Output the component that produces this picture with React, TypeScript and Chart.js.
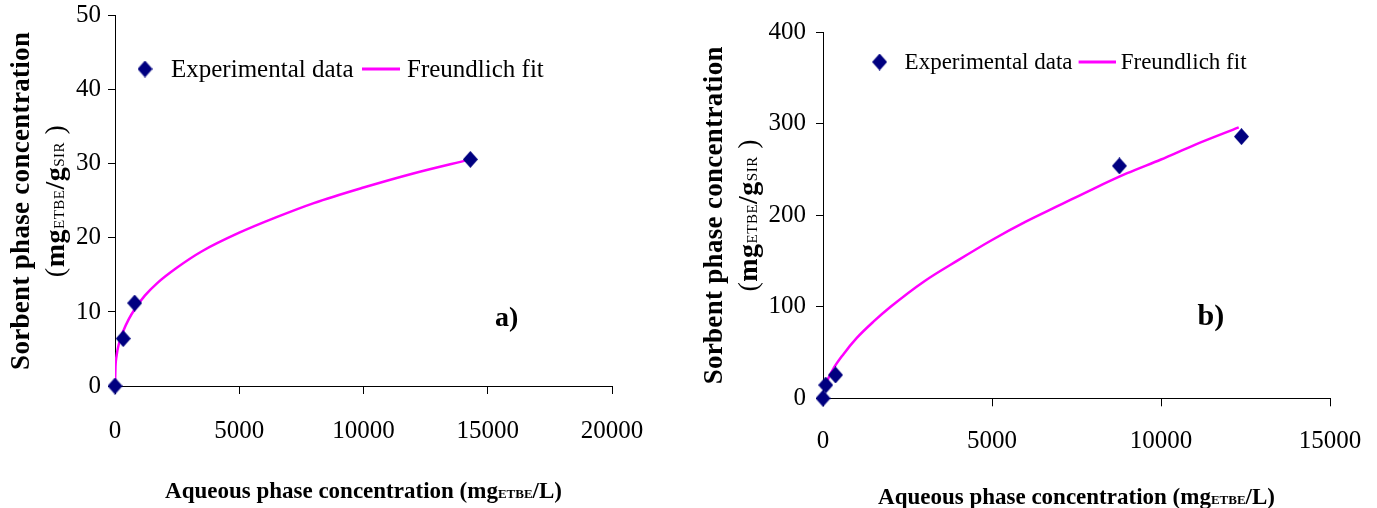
import { useEffect, useRef } from "react";
import { Chart, registerables } from "chart.js";

Chart.register(...registerables);

// ---------------- data ----------------
// Panel a)
const expA_x = [0, 330, 790, 14300];
const expA_y = [0, 6.4, 11.2, 30.6];
const fitA_x = [0, 20, 60, 150, 330, 550, 800, 1200, 1700, 2500, 3500, 5000, 6500, 8000, 10000, 12000, 14300];
const fitA_y = [0, 2.6, 4.0, 5.6, 7.4, 9.0, 10.4, 12.2, 13.9, 16.0, 18.2, 20.7, 22.8, 24.7, 26.8, 28.7, 30.6];
const xTicksA = [0, 5000, 10000, 15000, 20000];
const yTicksA = [0, 10, 20, 30, 40, 50];

// Panel b)
const expB_x = [0, 80, 370, 8770, 12380];
const expB_y = [0, 14.5, 25.5, 254, 286];
const fitB_x = [50, 100, 300, 600, 1000, 1500, 2000, 3000, 4000, 5000, 6000, 7000, 8000, 9000, 10000, 11000, 12300];
const fitB_y = [11, 17, 32, 48, 66, 84, 100, 128, 151, 173, 193, 211, 229, 246, 261, 277, 296];
const xTicksB = [0, 5000, 10000, 15000];
const yTicksB = [0, 100, 200, 300, 400];

// Text
const legendLabels = ["Experimental data", "Freundlich fit"];
const panelTags = ["a)", "b)"];
const xTitleMain = "Aqueous phase concentration (mg";
const xTitleSub = "ETBE";
const xTitleTail = "/L)";
const yTitleMain = "Sorbent phase concentration";
const yTitle2 = ["(", "mg", "ETBE", "/g", "SIR", " )"];

// ---------------- styling ----------------
const SERIF = '"Liberation Serif", "Times New Roman", serif';
const FIT_COLOR = "#FF00FF";
const POINT_COLOR = "#000080";

type Seg = { t: string; f: string; dy?: number };

function richWidth(ctx: CanvasRenderingContext2D, segs: Seg[]) {
  let w = 0;
  for (const s of segs) {
    ctx.font = s.f;
    w += ctx.measureText(s.t).width;
  }
  return w;
}

function drawRich(ctx: CanvasRenderingContext2D, segs: Seg[], x: number, y: number) {
  let cx = x;
  for (const s of segs) {
    ctx.font = s.f;
    ctx.fillText(s.t, cx, y + (s.dy || 0));
    cx += ctx.measureText(s.t).width;
  }
}

function makeDiamond(w: number, h: number) {
  const c = document.createElement("canvas");
  c.width = w;
  c.height = h;
  const g = c.getContext("2d")!;
  g.fillStyle = POINT_COLOR;
  g.beginPath();
  g.moveTo(w / 2, 0);
  g.lineTo(w, h / 2);
  g.lineTo(w / 2, h);
  g.lineTo(0, h / 2);
  g.closePath();
  g.fill();
  return c;
}

const panels = [
  {
    expX: expA_x, expY: expA_y, fitX: fitA_x, fitY: fitA_y,
    xTicks: xTicksA, yTicks: yTicksA, xMax: 20000, yMax: 50,
    padTop: 15.7, padRight: 76, yWidth: 115, xHeight: 122,
    yLabelPad: 7, xLabelPad: 22,
    legY: 69, legDiamondX: 145, legText1X: 171, legLine0: 362, legLine1: 400, legText2X: 407, legFont: 25,
    tag: panelTags[0], tagX: 495, tagY: 326, tagFont: 28,
    xTitleY: 498, yTitleX: 29, yTitle2X: 64,
  },
  {
    expX: expB_x, expY: expB_y, fitX: fitB_x, fitY: fitB_y,
    xTicks: xTicksB, yTicks: yTicksB, xMax: 15000, yMax: 400,
    padTop: 32.3, padRight: 47, yWidth: 135, xHeight: 109.7,
    yLabelPad: 10, xLabelPad: 20,
    legY: 62, legDiamondX: 191.6, legText1X: 216.6, legLine0: 390.6, legLine1: 428, legText2X: 432.7, legFont: 23,
    tag: panelTags[1], tagX: 509.5, tagY: 325, tagFont: 30,
    xTitleY: 504, yTitleX: 34, yTitle2X: 69,
  },
];

function zeroPadding(s: any) {
  s.paddingTop = 0;
  s.paddingBottom = 0;
  s.paddingLeft = 0;
  s.paddingRight = 0;
}

function buildChart(canvas: HTMLCanvasElement, p: any) {
  const diamond = makeDiamond(15, 17);
  const deco = {
    id: "deco",
    afterDraw(chart: any) {
      const ctx: CanvasRenderingContext2D = chart.ctx;
      const ca = chart.chartArea;
      ctx.save();
      ctx.fillStyle = "#000";

      // legend
      ctx.drawImage(diamond, p.legDiamondX - 7.5, p.legY - 8.5);
      ctx.font = `${p.legFont}px ${SERIF}`;
      ctx.textBaseline = "middle";
      ctx.textAlign = "left";
      ctx.fillText(legendLabels[0], p.legText1X, p.legY + 1);
      ctx.strokeStyle = FIT_COLOR;
      ctx.lineWidth = 3;
      ctx.beginPath();
      ctx.moveTo(p.legLine0, p.legY);
      ctx.lineTo(p.legLine1, p.legY);
      ctx.stroke();
      ctx.fillText(legendLabels[1], p.legText2X, p.legY + 1);

      // panel tag
      ctx.textBaseline = "alphabetic";
      ctx.font = `bold ${p.tagFont}px ${SERIF}`;
      ctx.fillText(p.tag, p.tagX, p.tagY);

      // x title
      const xs: Seg[] = [
        { t: xTitleMain, f: `bold 23px ${SERIF}` },
        { t: xTitleSub, f: `bold 13px ${SERIF}` },
        { t: xTitleTail, f: `bold 23px ${SERIF}` },
      ];
      const xw = richWidth(ctx, xs);
      drawRich(ctx, xs, (ca.left + ca.right) / 2 - xw / 2, p.xTitleY);

      // y title
      const cy = (ca.top + ca.bottom) / 2;
      ctx.save();
      ctx.translate(p.yTitleX, cy);
      ctx.rotate(-Math.PI / 2);
      (ctx as any).letterSpacing = "0.3px";
      ctx.font = `bold 27px ${SERIF}`;
      ctx.textAlign = "center";
      ctx.fillText(yTitleMain, 0, 0);
      ctx.restore();

      ctx.save();
      ctx.translate(p.yTitle2X, cy);
      ctx.rotate(-Math.PI / 2);
      ctx.textAlign = "left";
      (ctx as any).letterSpacing = "0.5px";
      const ys: Seg[] = [
        { t: yTitle2[0], f: `28px ${SERIF}` },
        { t: yTitle2[1], f: `bold 28px ${SERIF}` },
        { t: yTitle2[2], f: `15px ${SERIF}` },
        { t: yTitle2[3], f: `bold 28px ${SERIF}` },
        { t: yTitle2[4], f: `15px ${SERIF}` },
        { t: yTitle2[5], f: `28px ${SERIF}` },
      ];
      const yw = richWidth(ctx, ys);
      drawRich(ctx, ys, -yw / 2, 0);
      ctx.restore();

      ctx.restore();
    },
  };

  const expData = p.expX.map((x: number, i: number) => ({ x, y: p.expY[i] }));
  const fitData = p.fitX.map((x: number, i: number) => ({ x, y: p.fitY[i] }));

  return new Chart(canvas, {
    type: "scatter",
    data: {
      datasets: [
        {
          label: legendLabels[0],
          data: expData,
          pointStyle: diamond as any,
          pointRadius: 8,
          backgroundColor: POINT_COLOR,
          borderColor: POINT_COLOR,
          showLine: false,
          clip: false as any,
        },
        {
          label: legendLabels[1],
          data: fitData,
          showLine: true,
          pointRadius: 0,
          borderColor: FIT_COLOR,
          borderWidth: 2.5,
          cubicInterpolationMode: "monotone",
          fill: false,
        } as any,
      ],
    },
    options: {
      responsive: false,
      animation: false,
      devicePixelRatio: 1,
      events: [],
      layout: { autoPadding: false, padding: { left: 0, top: p.padTop, right: p.padRight, bottom: 0 } },
      plugins: { legend: { display: false }, title: { display: false }, tooltip: { enabled: false } },
      scales: {
        x: {
          type: "linear",
          min: 0,
          max: p.xMax,
          afterBuildTicks: (s: any) => {
            s.ticks = p.xTicks.map((v: number) => ({ value: v }));
          },
          afterFit: (s: any) => {
            s.height = p.xHeight;
            zeroPadding(s);
          },
          grid: { display: true, drawOnChartArea: false, drawTicks: true, tickLength: 8, color: "#000", lineWidth: 1 },
          border: { display: true, color: "#000", width: 1 },
          ticks: {
            color: "#000",
            font: { family: SERIF, size: 25 },
            padding: p.xLabelPad,
            maxRotation: 0,
            autoSkip: false,
            callback: (v: any) => String(v),
          },
        },
        y: {
          type: "linear",
          min: 0,
          max: p.yMax,
          afterBuildTicks: (s: any) => {
            s.ticks = p.yTicks.map((v: number) => ({ value: v }));
          },
          afterFit: (s: any) => {
            s.width = p.yWidth;
            zeroPadding(s);
          },
          grid: { display: true, drawOnChartArea: false, drawTicks: true, tickLength: 7, color: "#000", lineWidth: 1 },
          border: { display: true, color: "#000", width: 1 },
          ticks: {
            color: "#000",
            font: { family: SERIF, size: 25 },
            padding: p.yLabelPad,
            autoSkip: false,
            callback: (v: any) => String(v),
          },
        },
      },
    } as any,
    plugins: [deco],
  });
}

export default function App() {
  const refA = useRef<HTMLCanvasElement>(null);
  const refB = useRef<HTMLCanvasElement>(null);

  useEffect(() => {
    const cA = buildChart(refA.current!, panels[0]);
    const cB = buildChart(refB.current!, panels[1]);
    return () => {
      cA.destroy();
      cB.destroy();
    };
  }, []);

  return (
    <div style={{ position: "absolute", left: 0, top: 0, width: 1377, height: 508, background: "#fff", overflow: "hidden" }}>
      <canvas ref={refA} width={688} height={508} style={{ position: "absolute", left: 0, top: 0, width: 688, height: 508 }} />
      <canvas ref={refB} width={689} height={508} style={{ position: "absolute", left: 688, top: 0, width: 689, height: 508 }} />
    </div>
  );
}
